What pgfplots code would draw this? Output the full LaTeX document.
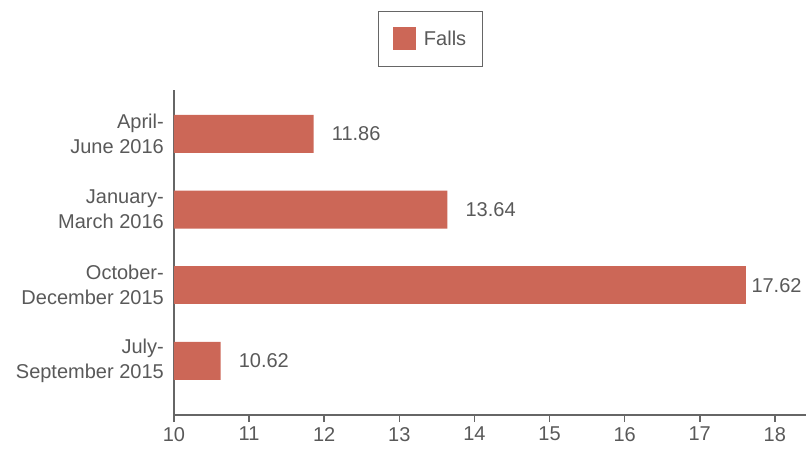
\documentclass[border=0pt]{standalone}
\usepackage{pgfplots}
\pgfplotsset{compat=1.18}
\usepackage{fontspec}
\setmainfont{Liberation Sans}
\definecolor{barc}{HTML}{CC6757}
\definecolor{txt}{HTML}{595959}
\definecolor{axc}{HTML}{666666}
\begin{document}
\begin{tikzpicture}
\begin{axis}[
  at={(0,0)}, anchor=south west,
  scale only axis,
  width=632bp, height=325bp,
  xmin=10, xmax=18.415,
  ymin=-0.714, ymax=3.58,
  xbar, bar width=38bp, bar shift=0pt,
  axis x line=bottom, axis y line=left,
  axis line style={-, axc, line width=1.6bp},
  xtick={10,11,...,18},
  ytick={0,1,2,3},
  yticklabels={{July-\\September 2015},{October-\\December 2015},{January-\\March 2016},{April-\\June 2016}},
  tick align=outside,
  major tick length=7bp,
  x tick style={axc, line width=1.6bp},
  y tick style={draw=none},
  /pgf/number format/assume math mode=true,
  xticklabel style={font=\fontsize{20bp}{24bp}\selectfont, text=txt, inner sep=0pt, yshift=-5bp},
  yticklabel style={font=\fontsize{20bp}{25bp}\selectfont, text=txt, align=right, inner sep=0pt, xshift=-3bp},
  clip=true,
  legend style={at={(0.406,1.157)}, anchor=center, draw=axc, line width=1bp,
    font=\fontsize{20bp}{24bp}\selectfont, text=txt, inner xsep=14bp, inner ysep=16bp,
    /tikz/every odd column/.append style={column sep=6bp}},
  legend image code/.code={\fill[barc] (0bp,-11.5bp) rectangle (23bp,11.5bp);},
  nodes near coords,
  point meta=x,
  nodes near coords style={font=\fontsize{20bp}{24bp}\selectfont, text=txt, anchor=west, inner sep=0pt, xshift=18bp,
    /pgf/number format/fixed, /pgf/number format/precision=2, /pgf/number format/fixed zerofill},
]
\addplot[fill=barc, draw=none] coordinates {(10.62,0) (13.64,2) (11.86,3)};
\addlegendentry{Falls}
\addplot[fill=barc, draw=none, forget plot, nodes near coords style={xshift=-13bp}] coordinates {(17.62,1)};
\draw[axc, line width=1.6bp] (axis cs:10,-0.714) -- ++(-9bp,0);
\end{axis}
\pgfresetboundingbox
\path[use as bounding box] (-174bp,-41bp) rectangle (634bp,415bp);
\end{tikzpicture}
\end{document}
